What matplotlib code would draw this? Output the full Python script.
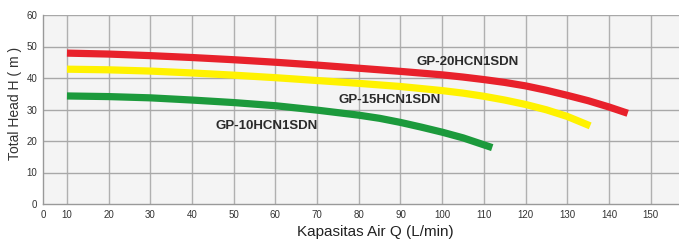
import matplotlib
matplotlib.use("Agg")
import matplotlib.pyplot as plt

plt.rcParams["font.family"] = ["Liberation Sans", "DejaVu Sans"]

# pump curves (flow L/min, head m)
flow_20 = [10, 20, 30, 40, 50, 60, 70, 80, 90, 100, 105, 110, 115, 120, 125, 130, 135, 140, 144.5]
head_20 = [47.9, 47.6, 47.1, 46.5, 45.8, 45.0, 44.1, 43.1, 42.1, 41.0, 40.3, 39.5, 38.6, 37.5, 36.1, 34.5, 32.8, 30.8, 28.8]

flow_15 = [10, 20, 30, 40, 50, 60, 70, 80, 90, 100, 105, 110, 115, 120, 125, 130, 135.5]
head_15 = [42.8, 42.6, 42.2, 41.6, 40.9, 40.1, 39.2, 38.3, 37.3, 36.0, 35.2, 34.2, 33.0, 31.6, 29.9, 27.8, 24.8]

flow_10 = [10, 20, 30, 40, 50, 60, 70, 80, 85, 90, 95, 100, 105, 112]
head_10 = [34.3, 34.1, 33.7, 33.0, 32.2, 31.2, 29.8, 28.2, 27.2, 25.9, 24.4, 22.8, 21.0, 17.9]

models = ["GP-20HCN1SDN", "GP-15HCN1SDN", "GP-10HCN1SDN"]
label_pos = [(106, 45.2), (87.5, 33.1), (58, 24.8)]
colors = ["#e8212b", "#fff200", "#1c9a3c"]

x_ticks = list(range(10, 160, 10))
y_ticks = list(range(0, 70, 10))

fig = plt.figure(figsize=(6.79, 2.40), dpi=100)
ax = fig.add_axes([0.0633, 0.15, 0.9367, 0.7875])
ax.set_facecolor("#f4f4f4")

x_left = 4.25
ax.set_xlim(x_left, 156.8)
ax.set_ylim(0, 60)

# grid
for x in x_ticks:
    ax.axvline(x, color="#b0b0b0", linewidth=1.0, zorder=1)
for y in y_ticks[1:]:
    ax.axhline(y, color="#a8a8a8", linewidth=1.0, zorder=1)

for fl, hd, c in zip([flow_20, flow_15, flow_10], [head_20, head_15, head_10], colors):
    ax.plot(fl, hd, color=c, linewidth=5.2, solid_capstyle="butt",
            solid_joinstyle="round", zorder=3)

for name, (lx, ly) in zip(models, label_pos):
    ax.text(lx, ly, name, ha="center", va="center", fontsize=9.5,
            fontweight="bold", color="#2b2b2b", zorder=4)

# original chart labels its left edge "0"
ax.set_xticks([x_left] + x_ticks)
ax.set_xticklabels(["0"] + [str(v) for v in x_ticks])
ax.set_yticks(y_ticks)
ax.tick_params(length=0, labelsize=7, colors="#333333", pad=4)

for s in ["top", "right"]:
    ax.spines[s].set_visible(False)
for s in ["left", "bottom"]:
    ax.spines[s].set_color("#999999")
    ax.spines[s].set_linewidth(1.0)

fig.text(0.022, 0.57, "Total Head H ( m )", rotation=90, ha="center", va="center",
         fontsize=10, color="#333333")
fig.text(0.553, 0.035, "Kapasitas Air Q (L/min)", ha="center", va="center",
         fontsize=11, color="#222222")

fig.savefig("out.png", dpi=100)
